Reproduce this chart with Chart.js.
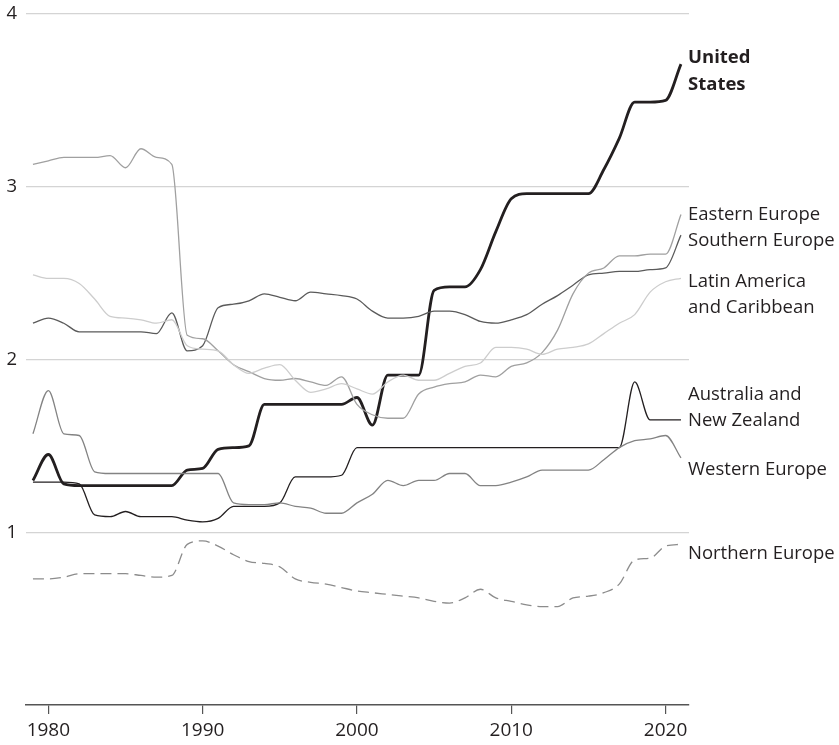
<!DOCTYPE html>
<html>
<head>
<meta charset="utf-8">
<script src="https://cdn.jsdelivr.net/npm/chart.js@4.4.1/dist/chart.umd.min.js"></script>
<style>
  html, body { margin: 0; padding: 0; background: #fff; }
  canvas { display: block; }
</style>
</head>
<body>
<canvas id="chart" width="839" height="745"></canvas>
<script>
const years = [
  1979, 1980, 1981, 1982, 1983, 1984, 1985, 1986, 1987, 1988,
  1989, 1990, 1991, 1992, 1993, 1994, 1995, 1996, 1997, 1998,
  1999, 2000, 2001, 2002, 2003, 2004, 2005, 2006, 2007, 2008,
  2009, 2010, 2011, 2012, 2013, 2014, 2015, 2016, 2017, 2018,
  2019, 2020, 2021
];

const xTicks = [1980, 1990, 2000, 2010, 2020];
const yTicks = [0, 1, 2, 3, 4];

const unitedStates = [
  1.30, 1.45, 1.28, 1.27, 1.27, 1.27, 1.27, 1.27, 1.27, 1.27,
  1.36, 1.37, 1.48, 1.49, 1.50, 1.74, 1.74, 1.74, 1.74, 1.74,
  1.74, 1.78, 1.62, 1.91, 1.91, 1.91, 2.40, 2.42, 2.42, 2.52,
  2.74, 2.93, 2.96, 2.96, 2.96, 2.96, 2.96, 3.10, 3.28, 3.49,
  3.49, 3.50, 3.71
];
const easternEurope = [
  3.13, 3.15, 3.17, 3.17, 3.17, 3.18, 3.11, 3.22, 3.17, 3.13,
  2.14, 2.12, 2.05, 1.97, 1.93, 1.89, 1.88, 1.89, 1.87, 1.85,
  1.90, 1.74, 1.68, 1.66, 1.66, 1.80, 1.84, 1.86, 1.87, 1.91,
  1.90, 1.96, 1.98, 2.04, 2.17, 2.38, 2.50, 2.53, 2.60, 2.60,
  2.61, 2.61, 2.84
];
const southernEurope = [
  2.21, 2.24, 2.21, 2.16, 2.16, 2.16, 2.16, 2.16, 2.15, 2.27,
  2.05, 2.08, 2.30, 2.32, 2.34, 2.38, 2.36, 2.34, 2.39, 2.38,
  2.37, 2.35, 2.28, 2.24, 2.24, 2.25, 2.28, 2.28, 2.26, 2.22,
  2.21, 2.23, 2.26, 2.32, 2.37, 2.43, 2.49, 2.50, 2.51, 2.51,
  2.52, 2.53, 2.72
];
const latinAmerica = [
  2.49, 2.47, 2.47, 2.44, 2.35, 2.25, 2.24, 2.23, 2.21, 2.23,
  2.08, 2.06, 2.05, 1.97, 1.92, 1.95, 1.97, 1.88, 1.81, 1.83,
  1.86, 1.83, 1.80, 1.87, 1.91, 1.88, 1.88, 1.92, 1.96, 1.98,
  2.07, 2.07, 2.06, 2.03, 2.06, 2.07, 2.09, 2.15, 2.21, 2.26,
  2.39, 2.45, 2.47
];
const australiaNZ = [
  1.29, 1.29, 1.29, 1.28, 1.10, 1.09, 1.12, 1.09, 1.09, 1.09,
  1.07, 1.06, 1.08, 1.15, 1.15, 1.15, 1.17, 1.32, 1.32, 1.32,
  1.33, 1.49, 1.49, 1.49, 1.49, 1.49, 1.49, 1.49, 1.49, 1.49,
  1.49, 1.49, 1.49, 1.49, 1.49, 1.49, 1.49, 1.49, 1.49, 1.87,
  1.65, 1.65, 1.65
];
const westernEurope = [
  1.57, 1.82, 1.57, 1.56, 1.35, 1.34, 1.34, 1.34, 1.34, 1.34,
  1.34, 1.34, 1.34, 1.17, 1.16, 1.16, 1.17, 1.15, 1.14, 1.11,
  1.11, 1.17, 1.22, 1.30, 1.27, 1.30, 1.30, 1.34, 1.34, 1.27,
  1.27, 1.29, 1.32, 1.36, 1.36, 1.36, 1.36, 1.42, 1.49, 1.53,
  1.54, 1.56, 1.43
];
const northernEurope = [
  0.73, 0.73, 0.74, 0.76, 0.76, 0.76, 0.76, 0.75, 0.74, 0.75,
  0.93, 0.95, 0.92, 0.87, 0.83, 0.82, 0.80, 0.73, 0.71, 0.70,
  0.68, 0.66, 0.65, 0.64, 0.63, 0.62, 0.60, 0.59, 0.62, 0.67,
  0.62, 0.60, 0.58, 0.57, 0.57, 0.62, 0.63, 0.65, 0.70, 0.84,
  0.85, 0.92, 0.93
];

const INK = '#231f20';
const FONT = '"Open Sans", "Noto Sans", sans-serif';
const NARROW = '"Liberation Sans Narrow", "Open Sans", sans-serif';

function toPoints(values) {
  return values.map((v, i) => ({ x: years[i], y: v }));
}

function series(values, color, width, dash) {
  return {
    data: toPoints(values),
    borderColor: color,
    borderWidth: width,
    borderDash: dash || [],
    pointRadius: 0,
    pointHoverRadius: 0,
    fill: false,
    cubicInterpolationMode: 'monotone'
  };
}

// text at the right end of each line; "at" is the value the block is centred on
const endLabels = [
  { lines: ['United', 'States'], at: 3.67, bold: true },
  { lines: ['Eastern Europe'], at: 2.836 },
  { lines: ['Southern Europe'], at: 2.688 },
  { lines: ['Latin America', 'and Caribbean'], at: 2.375 },
  { lines: ['Australia and', 'New Zealand'], at: 1.72 },
  { lines: ['Western Europe'], at: 1.36 },
  { lines: ['Northern Europe'], at: 0.875 }
];

const endLabelPlugin = {
  id: 'endLabels',
  afterDraw(chart) {
    const ctx = chart.ctx;
    const y = chart.scales.y;
    const left = chart.chartArea.right - 1;
    const lh = 26.5;
    ctx.save();
    ctx.fillStyle = INK;
    ctx.textAlign = 'left';
    ctx.textBaseline = 'middle';
    endLabels.forEach(lab => {
      ctx.font = (lab.bold ? '700 ' : '400 ') + '18.5px ' + FONT;
      const top = y.getPixelForValue(lab.at) - (lab.lines.length - 1) * lh / 2;
      lab.lines.forEach((t, i) => ctx.fillText(t, left, top + i * lh));
    });
    ctx.restore();
  }
};

new Chart(document.getElementById('chart'), {
  type: 'line',
  data: {
    datasets: [
      series(latinAmerica, '#cdcdcd', 1.3),
      series(easternEurope, '#a0a0a0', 1.3),
      series(westernEurope, '#838383', 1.3),
      series(southernEurope, '#5a5a5a', 1.3),
      series(northernEurope, '#8c8c8c', 1.3, [11, 6]),
      series(australiaNZ, INK, 1.3),
      series(unitedStates, INK, 2.8)
    ]
  },
  options: {
    responsive: false,
    animation: false,
    events: [],
    layout: { padding: { top: 14, right: 150, left: 0, bottom: 0 } },
    plugins: {
      legend: { display: false },
      tooltip: { enabled: false }
    },
    scales: {
      x: {
        type: 'linear',
        min: 1978.55,
        max: 2021.52,
        afterBuildTicks: s => { s.ticks = xTicks.map(v => ({ value: v })); },
        afterFit: s => { s.height = 40; },
        border: { display: true, color: '#555', width: 1.5 },
        grid: { drawOnChartArea: false, drawTicks: true, tickLength: 9, color: '#555', lineWidth: 1.2 },
        ticks: {
          padding: 5,
          color: INK,
          font: { family: NARROW, size: 19 },
          maxRotation: 0,
          callback: v => String(v)
        }
      },
      y: {
        min: 0,
        max: 4,
        afterBuildTicks: s => { s.ticks = yTicks.map(v => ({ value: v })); },
        afterFit: s => {
          s.width = 26;
          s.paddingTop = 0;
          s.paddingBottom = 0;
        },
        border: { display: false },
        grid: {
          drawTicks: false,
          color: c => (c.tick && c.tick.value === 0 ? 'rgba(0,0,0,0)' : '#d4d4d4'),
          lineWidth: 1.2
        },
        ticks: {
          padding: 9,
          color: INK,
          font: { family: FONT, size: 18.5 },
          callback: v => (v === 0 ? '' : String(v))
        }
      }
    }
  },
  plugins: [endLabelPlugin]
});
</script>
</body>
</html>
